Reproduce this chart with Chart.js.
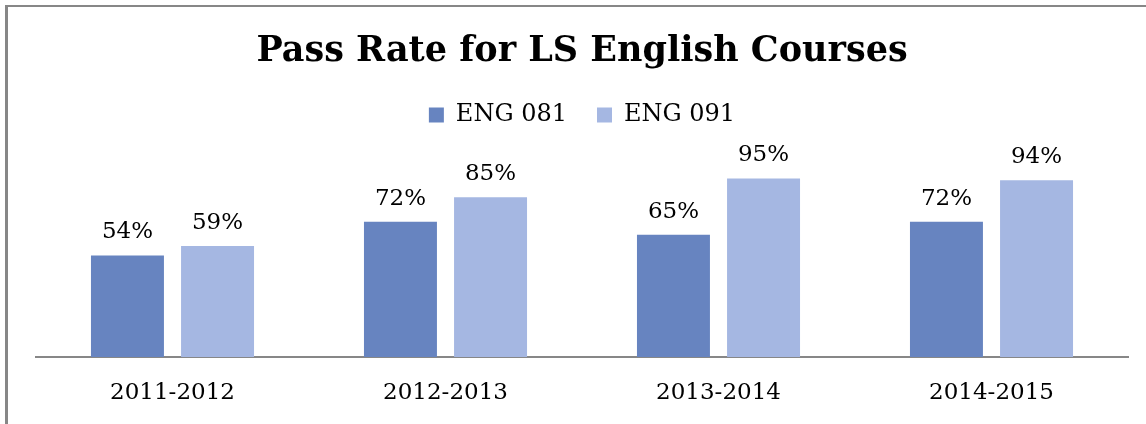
<!DOCTYPE html>
<html>
<head>
<meta charset="utf-8">
<script src="https://cdn.jsdelivr.net/npm/chart.js@4/dist/chart.umd.min.js"></script>
<style>
  html, body { margin: 0; padding: 0; background: #ffffff; }
  body { width: 1146px; height: 424px; position: relative; overflow: hidden; }
  #frame { position: absolute; left: 5px; top: 5px; width: 1300px; height: 600px;
           border-left: 3px solid #878787; border-top: 2px solid #878787; box-sizing: border-box; }
  #wrap { position: absolute; left: 0; top: 0; width: 1146px; height: 424px; }
</style>
</head>
<body>
<div id="frame"></div>
<div id="wrap"><canvas id="c" width="1146" height="424"></canvas></div>
<script>
const categories = ["2011-2012", "2012-2013", "2013-2014", "2014-2015"];
const seriesNames = ["ENG 081", "ENG 091"];
const eng081 = [54, 72, 65, 72];
const eng091 = [59, 85, 95, 94];
const titleText = "Pass Rate for LS English Courses";

const FONT = "'DejaVu Serif', 'Liberation Serif', serif";

const valueLabels = {
  id: 'valueLabels',
  afterDatasetsDraw(chart) {
    const ctx = chart.ctx;
    ctx.save();
    ctx.font = "23px " + FONT;
    ctx.fillStyle = "#000000";
    ctx.textAlign = "center";
    ctx.textBaseline = "alphabetic";
    chart.data.datasets.forEach((ds, i) => {
      const meta = chart.getDatasetMeta(i);
      meta.data.forEach((el, j) => {
        ctx.fillText(ds.data[j] + "%", el.x, el.y - 17);
      });
    });
    ctx.restore();
  }
};

const legendSpacing = {
  id: 'legendSpacing',
  afterInit(chart) {
    const legend = chart.legend;
    if (!legend) return;
    const origFit = legend.fit;
    legend.fit = function () {
      origFit.call(this);
      this.height += 32;
    };
  }
};

new Chart(document.getElementById('c'), {
  type: 'bar',
  data: {
    labels: categories,
    datasets: [
      { label: seriesNames[0], data: eng081, backgroundColor: '#6784C0',
        categoryPercentage: 0.66, barPercentage: 0.81 },
      { label: seriesNames[1], data: eng091, backgroundColor: '#A5B7E2',
        categoryPercentage: 0.66, barPercentage: 0.81 }
    ]
  },
  options: {
    responsive: false,
    animation: false,
    devicePixelRatio: 1,
    layout: { padding: { left: 36, right: 18, top: 0, bottom: 17 } },
    plugins: {
      title: {
        display: true, text: titleText, color: '#000000',
        font: { family: FONT, size: 35, weight: 'bold', lineHeight: 1.2 },
        padding: { top: 31, bottom: 0 }
      },
      legend: {
        display: true, position: 'top',
        labels: {
          color: '#000000', boxWidth: 15, boxHeight: 15, padding: 30,
          font: { family: FONT, size: 24 }
        }
      },
      tooltip: { enabled: false }
    },
    scales: {
      x: {
        grid: { display: false, drawTicks: false },
        border: { display: true, color: '#878787', width: 2 },
        ticks: { color: '#000000', padding: 22, font: { family: FONT, size: 23, lineHeight: 1.2 } },
        afterFit(scale) { scale.height = 50; }
      },
      y: {
        display: false, min: 0, max: 100
      }
    }
  },
  plugins: [valueLabels, legendSpacing]
});
</script>
</body>
</html>
